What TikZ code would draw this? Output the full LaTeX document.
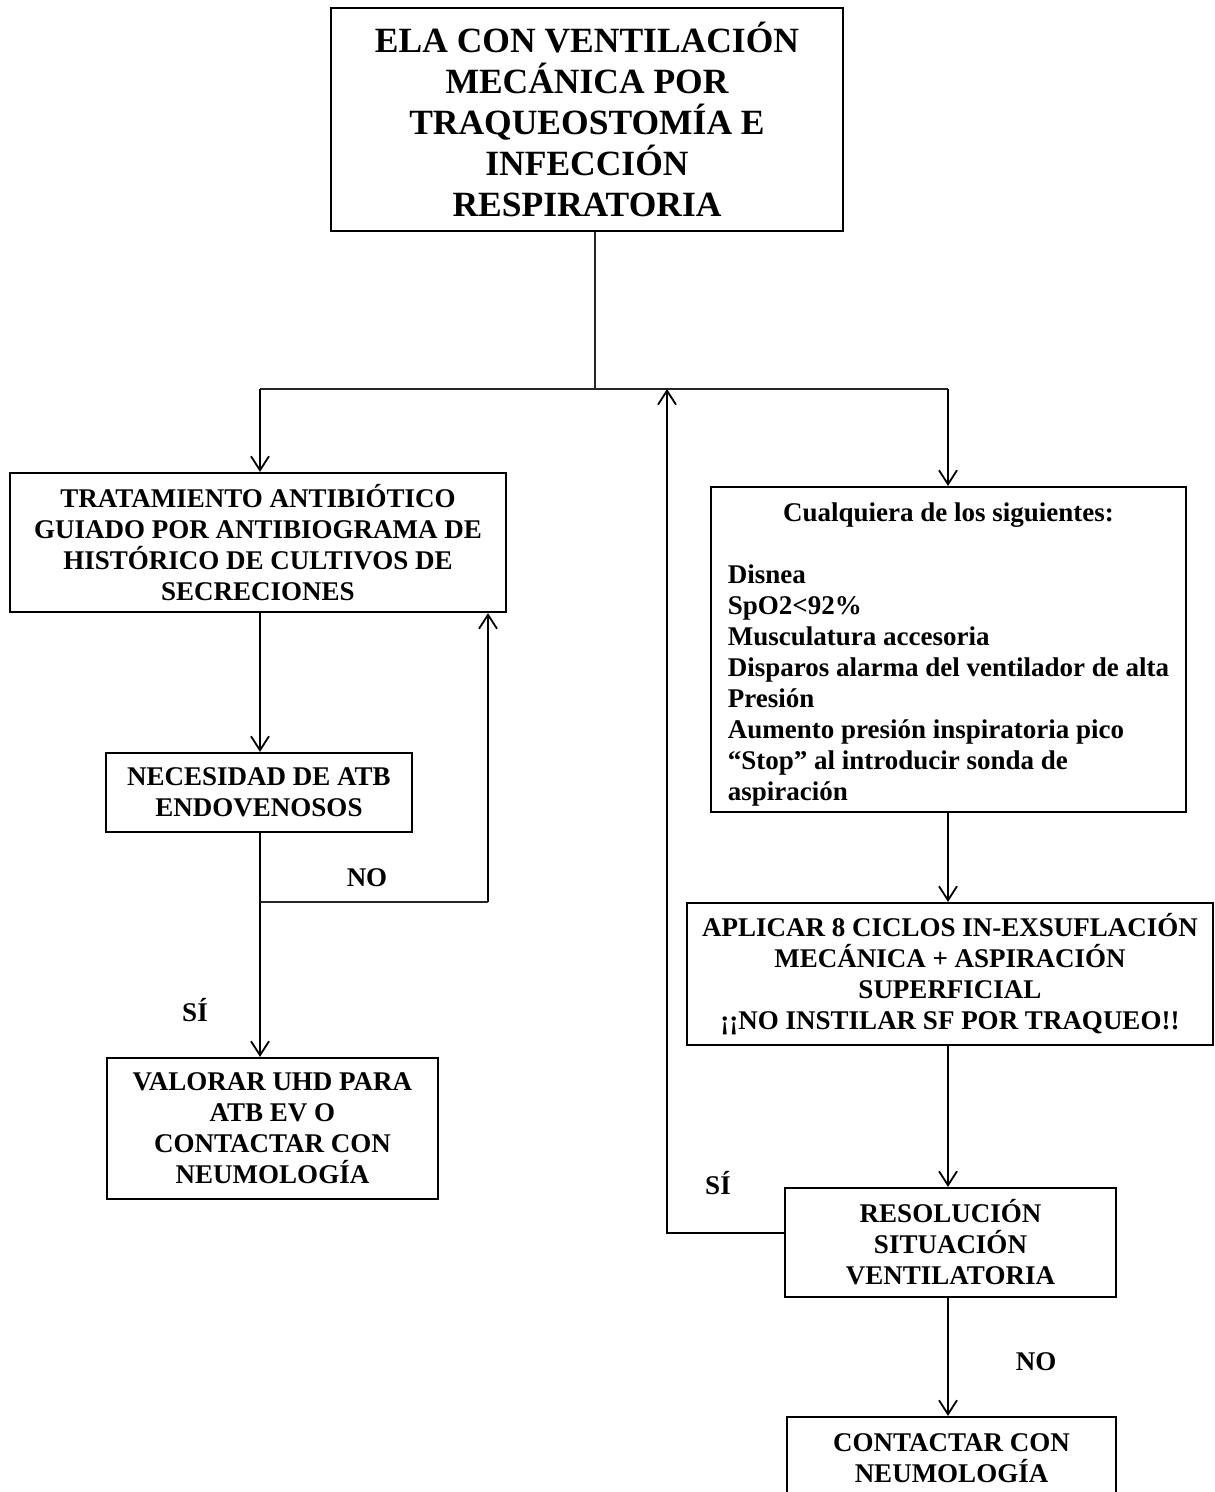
\documentclass[tikz,border=0pt]{standalone}
\usepackage{fontspec}
\setmainfont{Liberation Serif}
\usetikzlibrary{arrows.meta}
\tikzset{
  base/.style={font=\fontsize{27}{31}\selectfont\bfseries},
  box/.style={base, draw, line width=2.2pt, align=center, inner sep=0pt},
  lbl/.style={base, inner sep=0pt},
  conn/.style={line width=1.8pt},
  thin/.style={line width=1.1pt, draw=black!85},
  arr/.style={conn, -{Straight Barb[length=14pt,width=18pt,line width=1.8pt]}}
}
\begin{document}
\begin{tikzpicture}[x=1pt,y=-1pt]
\useasboundingbox (0,0) rectangle (1215,1492);
\clip (0,0) rectangle (1215,1492);
\fill[white] (0,0) rectangle (1215,1492);
% boxes
\node[box, font=\fontsize{35.5}{41}\selectfont\bfseries, minimum width=512pt, minimum height=223pt] (top) at (587,119.5)
  {ELA CON VENTILACIÓN\\MECÁNICA POR\\TRAQUEOSTOMÍA E\\INFECCIÓN\\RESPIRATORIA};
\node[box, minimum width=496pt, minimum height=139pt] (trat) at (258,542.5)
  {TRATAMIENTO ANTIBIÓTICO\\GUIADO POR ANTIBIOGRAMA DE\\HISTÓRICO DE CULTIVOS DE\\SECRECIONES};
\node[box, minimum width=306pt, minimum height=79pt] (nec) at (259,792.5)
  {NECESIDAD DE ATB\\ENDOVENOSOS};
\node[box, minimum width=331pt, minimum height=141pt] (val) at (272.5,1128.5)
  {VALORAR UHD PARA\\ATB EV O\\CONTACTAR CON\\NEUMOLOGÍA};
\node[box, minimum width=475pt, minimum height=325pt] (sig) at (948.5,649.5)
  {\begin{tabular}{@{}l@{}}
   \multicolumn{1}{@{}c@{}}{\rule{0pt}{31.7pt}Cualquiera de los siguientes:}\\
   \\
   Disnea\\
   SpO2<92\%\\
   Musculatura accesoria\\
   Disparos alarma del ventilador de alta\\
   Presión\\
   Aumento presión inspiratoria pico\\
   “Stop” al introducir sonda de\\
   aspiración
   \end{tabular}};
\node[box, minimum width=526pt, minimum height=142pt] (apl) at (950,974)
  {APLICAR 8 CICLOS IN-EXSUFLACIÓN\\MECÁNICA + ASPIRACIÓN\\SUPERFICIAL\\¡¡NO INSTILAR SF POR TRAQUEO!!};
\node[box, minimum width=331pt, minimum height=109pt] (res) at (950.5,1242.5)
  {RESOLUCIÓN\\SITUACIÓN\\VENTILATORIA};
\node[box, minimum width=329pt, minimum height=83pt] (con) at (951.5,1458.5)
  {CONTACTAR CON\\NEUMOLOGÍA};
% labels
\node[lbl] (no1) at (367,878) {NO};
\node[lbl] (si1) at (195,1010) {SÍ};
\node[lbl] (si2) at (718,1183) {SÍ};
\node[lbl] (no2) at (1036,1362) {NO};
% coordinates
\coordinate (jc) at (595,389);
\coordinate (jL) at (260,389);
\coordinate (jR) at (948,389);
\coordinate (jM) at (667,389);
\coordinate (br) at (260,902);
\coordinate (br2) at (488,902);
\coordinate (lp) at (667,1233);
% connectors
\draw[thin] (top.south -| jc) -- (jc);
\draw[thin] (jL) -- (jR);
\draw[arr] (jL) -- (jL |- trat.north);
\draw[arr] (jR) -- (jR |- sig.north);
\draw[arr] (trat.south -| jL) -- (nec.north -| jL);
\draw[arr] (nec.south -| jL) -- (val.north -| jL);
\draw[thin] (br) -- (br2);
\draw[arr] (br2) -- (br2 |- trat.south);
\draw[arr] (sig.south -| jR) -- (apl.north -| jR);
\draw[arr] (apl.south -| jR) -- (res.north -| jR);
\draw[arr] (res.west |- lp) -- (lp) -- (jM);
\draw[arr] (res.south -| jR) -- (con.north -| jR);
\end{tikzpicture}
\end{document}
